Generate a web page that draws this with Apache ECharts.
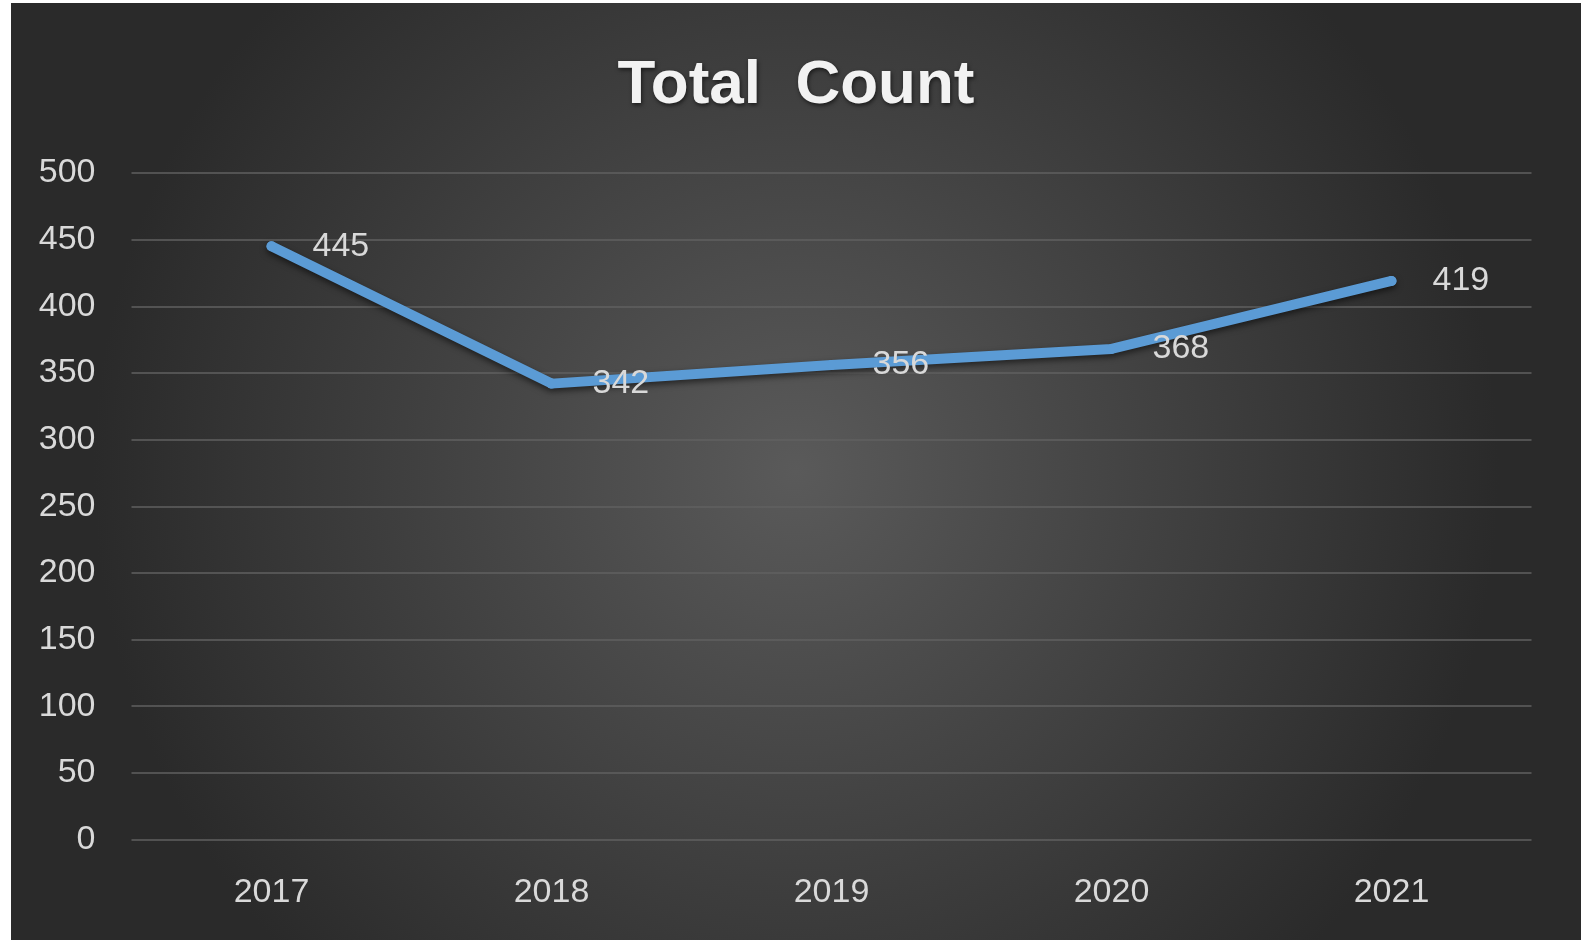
<!DOCTYPE html>
<html>
<head>
<meta charset="utf-8">
<script src="https://cdn.jsdelivr.net/npm/echarts@6/dist/echarts.min.js"></script>
<style>
html,body{margin:0;padding:0;background:#ffffff;width:1588px;height:940px;overflow:hidden;}
#chart{position:absolute;left:11px;top:3px;width:1570px;height:937px;}
</style>
</head>
<body>
<div id="chart"></div>
<script>
const categories = ['2017', '2018', '2019', '2020', '2021'];
const totalCount = [445, 342, 356, 368, 419];
const yTicks = [0, 50, 100, 150, 200, 250, 300, 350, 400, 450, 500];

const chart = echarts.init(document.getElementById('chart'));
chart.setOption({
  backgroundColor: {
    type: 'radial', x: 0.5, y: 0.5, r: 0.75,
    colorStops: [
      { offset: 0, color: '#5a5a5a' },
      { offset: 1, color: '#2a2a2a' }
    ]
  },
  title: {
    text: 'Total  Count',
    left: 'center',
    top: 47,
    textStyle: {
      fontFamily: 'Liberation Sans',
      fontWeight: 'bold',
      fontSize: 62,
      color: '#f2f2f2',
      textShadowColor: 'rgba(0,0,0,0.6)',
      textShadowBlur: 4,
      textShadowOffsetX: 1,
      textShadowOffsetY: 2
    }
  },
  grid: { left: 120.5, right: 49.5, top: 170, bottom: 100.5, containLabel: false },
  xAxis: {
    type: 'category',
    data: categories,
    boundaryGap: true,
    axisLine: { show: false },
    axisTick: { show: false },
    axisLabel: {
      margin: 36,
      fontFamily: 'Liberation Sans',
      fontSize: 34,
      color: '#d9d9d9'
    }
  },
  yAxis: {
    type: 'value',
    min: yTicks[0],
    max: yTicks[yTicks.length - 1],
    interval: yTicks[1] - yTicks[0],
    axisLine: { show: false },
    axisTick: { show: false },
    axisLabel: {
      margin: 36,
      fontFamily: 'Liberation Sans',
      fontSize: 34,
      color: '#d9d9d9'
    },
    splitLine: { lineStyle: { color: '#606060', width: 1.5 } }
  },
  series: [{
    type: 'line',
    data: totalCount,
    symbol: 'circle',
    symbolSize: 10,
    showSymbol: true,
    itemStyle: { color: '#5b9bd5' },
    lineStyle: {
      color: '#5b9bd5',
      width: 10,
      cap: 'round',
      join: 'round',
      shadowColor: 'rgba(0,0,0,0.55)',
      shadowBlur: 6,
      shadowOffsetY: 3
    },
    label: {
      show: true,
      position: 'right',
      distance: 36,
      fontFamily: 'Liberation Sans',
      fontSize: 34,
      color: '#d9d9d9'
    },
    animation: false
  }],
  animation: false
});
</script>
</body>
</html>
